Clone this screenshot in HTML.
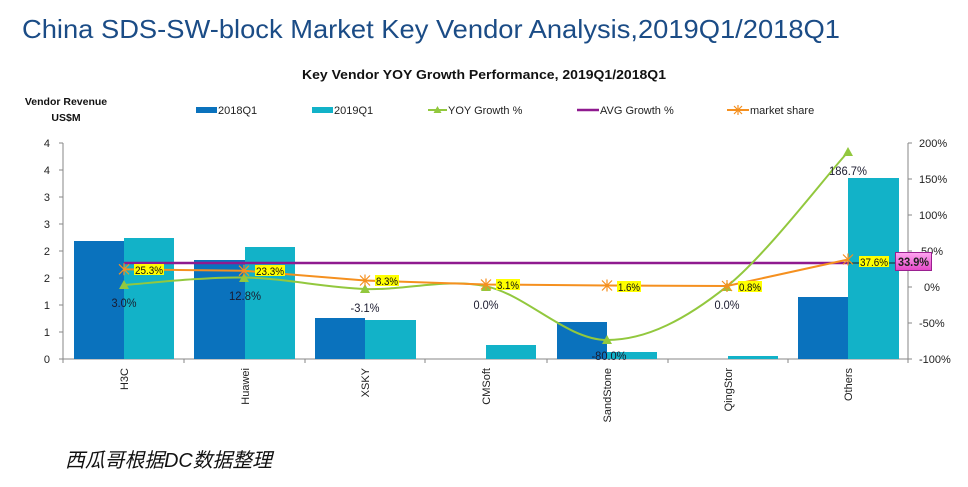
<!DOCTYPE html>
<html><head><meta charset="utf-8"><style>
html,body{margin:0;padding:0;background:#fff;}
svg{display:block;font-family:"Liberation Sans","Noto Sans CJK SC",sans-serif;}
</style></head><body>
<svg width="968" height="487" viewBox="0 0 968 487" xmlns="http://www.w3.org/2000/svg">
<defs>
<linearGradient id="pk" x1="0" y1="0" x2="0" y2="1"><stop offset="0" stop-color="#ffa6f0"/><stop offset="1" stop-color="#e447c8"/></linearGradient>
</defs>
<rect width="968" height="487" fill="#fff"/>
<text x="22" y="38" font-size="26" fill="#1b4c86" textLength="818" lengthAdjust="spacingAndGlyphs">China SDS-SW-block Market Key Vendor Analysis,2019Q1/2018Q1</text>
<text x="302" y="79" font-size="12.5" font-weight="bold" fill="#111" textLength="364" lengthAdjust="spacingAndGlyphs">Key Vendor YOY Growth Performance, 2019Q1/2018Q1</text>
<text x="66" y="105" font-size="10.5" font-weight="bold" fill="#111" text-anchor="middle">Vendor Revenue</text>
<text x="66" y="121" font-size="10.5" font-weight="bold" fill="#111" text-anchor="middle">US$M</text>
<!-- legend -->
<g font-size="11" fill="#222">
<rect x="196" y="107" width="21" height="6" fill="#0a72bd"/><text x="218" y="114">2018Q1</text>
<rect x="312" y="107" width="21" height="6" fill="#12b2c8"/><text x="334" y="114">2019Q1</text>
<line x1="428" y1="110" x2="447" y2="110" stroke="#92c83e" stroke-width="2"/><polygon points="437.5,106 441.5,113 433.5,113" fill="#92c83e"/><text x="448" y="114">YOY Growth %</text>
<line x1="577" y1="110" x2="599" y2="110" stroke="#8f1a8f" stroke-width="2.5"/><text x="600" y="114">AVG Growth %</text>
<line x1="727" y1="110" x2="749" y2="110" stroke="#f5901f" stroke-width="2"/>
<g stroke="#f5901f" stroke-width="1.2"><line x1="734" y1="106" x2="742" y2="114"/><line x1="742" y1="106" x2="734" y2="114"/><line x1="738" y1="105" x2="738" y2="115"/></g>
<text x="750" y="114">market share</text>
</g>
<!-- axes -->
<g stroke="#878787" stroke-width="1">
<line x1="63" y1="143" x2="63" y2="359"/>
<line x1="908" y1="143" x2="908" y2="359"/>
<line x1="63" y1="359" x2="908" y2="359"/>
<line x1="59" y1="143" x2="63" y2="143"/><line x1="59" y1="170" x2="63" y2="170"/><line x1="59" y1="197" x2="63" y2="197"/><line x1="59" y1="224" x2="63" y2="224"/><line x1="59" y1="251" x2="63" y2="251"/><line x1="59" y1="278" x2="63" y2="278"/><line x1="59" y1="305" x2="63" y2="305"/><line x1="59" y1="332" x2="63" y2="332"/><line x1="59" y1="359" x2="63" y2="359"/>
<line x1="908" y1="143" x2="912" y2="143"/><line x1="908" y1="179" x2="912" y2="179"/><line x1="908" y1="215" x2="912" y2="215"/><line x1="908" y1="251" x2="912" y2="251"/><line x1="908" y1="287" x2="912" y2="287"/><line x1="908" y1="323" x2="912" y2="323"/><line x1="908" y1="359" x2="912" y2="359"/>
<line x1="63" y1="359" x2="63" y2="363"/><line x1="184" y1="359" x2="184" y2="363"/><line x1="305" y1="359" x2="305" y2="363"/><line x1="425" y1="359" x2="425" y2="363"/><line x1="547" y1="359" x2="547" y2="363"/><line x1="668" y1="359" x2="668" y2="363"/><line x1="788" y1="359" x2="788" y2="363"/><line x1="908" y1="359" x2="908" y2="363"/>
</g>
<g font-size="11" fill="#222" text-anchor="end">
<text x="50" y="147">4</text><text x="50" y="174">4</text><text x="50" y="201">3</text><text x="50" y="228">3</text><text x="50" y="255">2</text><text x="50" y="282">2</text><text x="50" y="309">1</text><text x="50" y="336">1</text><text x="50" y="363">0</text>
</g>
<g font-size="11" fill="#222">
<text x="919" y="147">200%</text><text x="919" y="183">150%</text><text x="919" y="219">100%</text><text x="921" y="255">50%</text><text x="924" y="291">0%</text><text x="919" y="327">-50%</text><text x="919" y="363">-100%</text>
</g>
<!-- bars -->
<g fill="#0a72bd">
<rect x="74" y="241" width="50" height="118"/>
<rect x="194" y="260" width="51" height="99"/>
<rect x="315" y="318" width="50" height="41"/>
<rect x="557" y="322" width="50" height="37"/>
<rect x="798" y="297" width="50" height="62"/>
</g>
<g fill="#12b2c8">
<rect x="124" y="238" width="50" height="121"/>
<rect x="245" y="247" width="50" height="112"/>
<rect x="365" y="320" width="51" height="39"/>
<rect x="486" y="345" width="50" height="14"/>
<rect x="607" y="352" width="50" height="7"/>
<rect x="728" y="356" width="50" height="3"/>
<rect x="848" y="178" width="51" height="181"/>
</g>
<!-- category labels -->
<g font-size="11" fill="#222" text-anchor="end">
<text transform="translate(128,368) rotate(-90)">H3C</text>
<text transform="translate(249,368) rotate(-90)">Huawei</text>
<text transform="translate(369,368) rotate(-90)">XSKY</text>
<text transform="translate(490,368) rotate(-90)">CMSoft</text>
<text transform="translate(611,368) rotate(-90)">SandStone</text>
<text transform="translate(732,368) rotate(-90)">QingStor</text>
<text transform="translate(852,368) rotate(-90)">Others</text>
</g>
<!-- avg line -->
<line x1="124" y1="263" x2="849" y2="263" stroke="#8f1a8f" stroke-width="2.5"/>
<line x1="849" y1="263" x2="896" y2="263" stroke="#222" stroke-width="1"/>
<!-- green YOY smooth -->
<path d="M124,285 C144,283.75 203.8,276.8 244,277.5 C284.2,278.2 324.7,287.5 365,289 C405.3,290.5 445.7,278 486,286.3 C526.3,294.6 566.8,340 607,340 C647.2,340 686.8,318.5 727,286.3 C767.2,254 827.8,173.5 848,152" fill="none" stroke="#92c83e" stroke-width="2"/>
<g fill="#92c83e">
<polygon points="124,280 129,289 119,289"/>
<polygon points="244,273 249,282 239,282"/>
<polygon points="365,284 370,293 360,293"/>
<polygon points="486,282 491,291 481,291"/>
<polygon points="607,335 612,344 602,344"/>
<polygon points="727,282 732,291 722,291"/>
<polygon points="848,147 853,156 843,156"/>
</g>
<!-- orange market share -->
<polyline points="124,269.3 244,270.7 365,280.5 486,284.5 607,285.5 727,286 848,259.5" fill="none" stroke="#f5901f" stroke-width="2"/>
<g stroke="#f5901f" stroke-width="1.2">
<path d="M119,264.3l10,10M129,264.3l-10,10M124,263.3v12"/>
<path d="M239,265.7l10,10M249,265.7l-10,10M244,264.7v12"/>
<path d="M360,275.5l10,10M370,275.5l-10,10M365,274.5v12"/>
<path d="M481,279.5l10,10M491,279.5l-10,10M486,278.5v12"/>
<path d="M602,280.5l10,10M612,280.5l-10,10M607,279.5v12"/>
<path d="M722,281l10,10M732,281l-10,10M727,280v12"/>
<path d="M843,254.5l10,10M853,254.5l-10,10M848,253.5v12"/>
</g>
<!-- yellow labels -->
<g fill="#ffff00">
<rect x="134" y="264" width="30" height="11"/>
<rect x="255" y="265" width="30" height="11"/>
<rect x="375" y="275" width="24" height="11"/>
<rect x="496" y="279" width="24" height="11"/>
<rect x="617" y="281" width="24" height="11"/>
<rect x="738" y="281" width="24" height="11"/>
<rect x="859" y="256" width="30" height="11"/>
</g>
<g font-size="11" fill="#111">
<text x="135" y="274" textLength="28" lengthAdjust="spacingAndGlyphs">25.3%</text>
<text x="256" y="275" textLength="28" lengthAdjust="spacingAndGlyphs">23.3%</text>
<text x="376" y="285" textLength="22" lengthAdjust="spacingAndGlyphs">8.3%</text>
<text x="497" y="289" textLength="22" lengthAdjust="spacingAndGlyphs">3.1%</text>
<text x="618" y="291" textLength="22" lengthAdjust="spacingAndGlyphs">1.6%</text>
<text x="739" y="291" textLength="22" lengthAdjust="spacingAndGlyphs">0.8%</text>
<text x="860" y="266" textLength="28" lengthAdjust="spacingAndGlyphs">37.6%</text>
</g>
<!-- pink avg label -->
<rect x="895.5" y="252.5" width="36" height="18" fill="url(#pk)" stroke="#9a2090" stroke-width="1"/>
<text x="898" y="266" font-size="11.5" font-weight="bold" fill="#222" textLength="31" lengthAdjust="spacingAndGlyphs">33.9%</text>
<!-- YOY labels -->
<g font-size="11.5" fill="#1a1a2e" text-anchor="middle">
<text x="124" y="307" textLength="25" lengthAdjust="spacingAndGlyphs">3.0%</text>
<text x="245" y="300" textLength="32" lengthAdjust="spacingAndGlyphs">12.8%</text>
<text x="365" y="312" textLength="29" lengthAdjust="spacingAndGlyphs">-3.1%</text>
<text x="486" y="309" textLength="25" lengthAdjust="spacingAndGlyphs">0.0%</text>
<text x="609" y="360" textLength="35" lengthAdjust="spacingAndGlyphs">-80.0%</text>
<text x="727" y="309" textLength="25" lengthAdjust="spacingAndGlyphs">0.0%</text>
<text x="848" y="175" textLength="38" lengthAdjust="spacingAndGlyphs">186.7%</text>
</g>
<!-- footer -->
<text x="65" y="467" font-size="20" font-style="italic" fill="#111" font-family="'Liberation Sans','Noto Sans CJK SC',sans-serif" textLength="207" lengthAdjust="spacingAndGlyphs">西瓜哥根据DC数据整理</text>
</svg>
</body></html>
